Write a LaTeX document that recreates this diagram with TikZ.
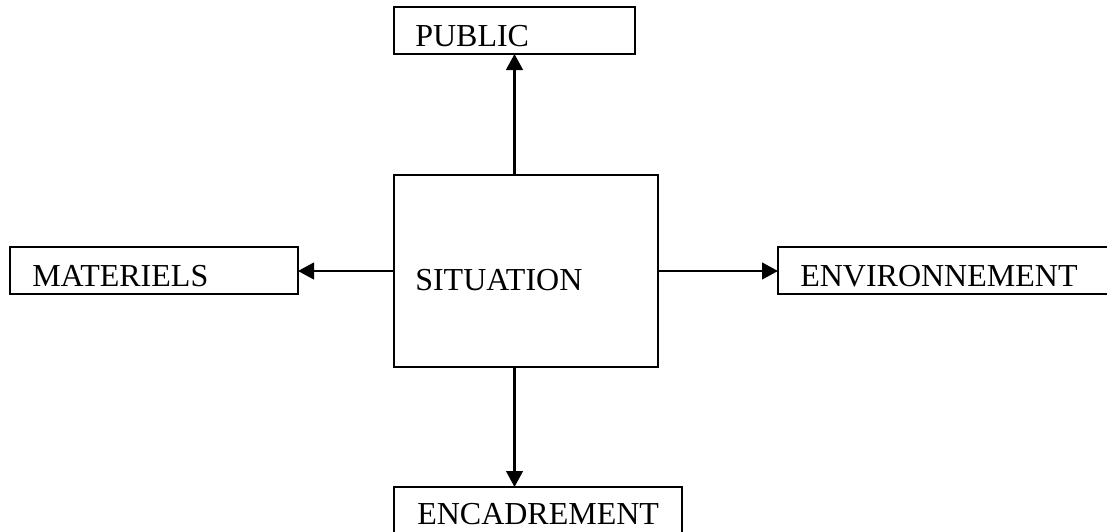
\documentclass[tikz,border=0pt]{standalone}
\usepackage{fontspec}
\setmainfont{Liberation Serif}
\usetikzlibrary{arrows.meta}
\begin{document}
\begin{tikzpicture}[x=0.75pt,y=-0.75pt,
  boxnode/.style={draw=black,line width=1.7pt,rectangle,inner sep=0pt,outer sep=0pt},
  txt/.style={inner sep=0pt,anchor=base west,font=\fontsize{24}{28}\selectfont},
  conn/.style={line width=1.7pt,-{Triangle[length=12pt,width=12.5pt]}}]
\useasboundingbox (0,0) rectangle (1107,532);
\begin{scope}
\clip (0,0) rectangle (1107,532);
\node[boxnode,minimum width=241*0.75pt,minimum height=47*0.75pt] (pub) at (514.5,30.5) {};
\node[boxnode,minimum width=264*0.75pt,minimum height=192*0.75pt] (sit) at (526,271) {};
\node[boxnode,minimum width=288*0.75pt,minimum height=47*0.75pt] (mat) at (154,270.5) {};
\node[boxnode,minimum width=352*0.75pt,minimum height=47*0.75pt] (env) at (954,270.5) {};
\node[boxnode,minimum width=288*0.75pt,minimum height=60*0.75pt] (enc) at (538,517) {};
\end{scope}
\node[txt] (tpub) at (415,46) {PUBLIC};
\node[txt] (tsit) at (415,290) {SITUATION};
\node[txt] (tmat) at (32,286) {MATERIELS};
\node[txt] (tenv) at (800,286) {ENVIRONNEMENT};
\node[txt] (tenc) at (417,524) {ENCADREMENT};
\draw[conn] (sit.north -| pub.south) -- (pub.south);
\draw[conn] (sit.south -| pub.south) -- (enc.north -| pub.south);
\draw[conn] (sit.west) -- (sit.west -| mat.east);
\draw[conn] (sit.east) -- (sit.east -| env.west);
\end{tikzpicture}
\end{document}
